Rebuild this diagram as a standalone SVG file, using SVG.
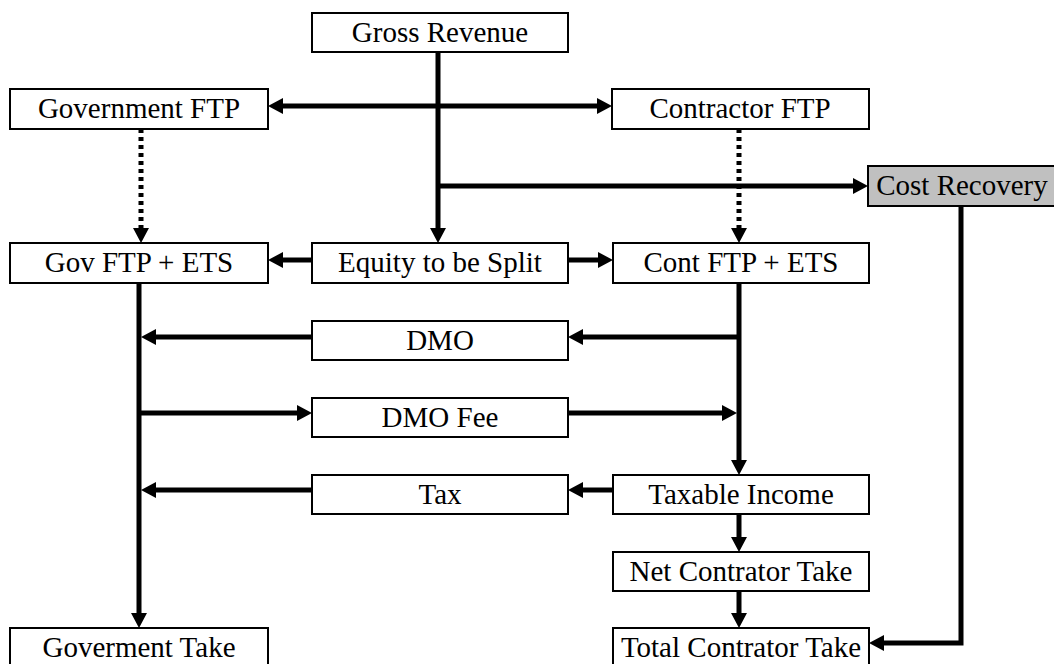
<svg xmlns="http://www.w3.org/2000/svg" width="1054" height="664" viewBox="0 0 1054 664">
<style>
.box{fill:#ffffff;stroke:#000000;stroke-width:2}
.grey{fill:#c0c0c0}
.lbl{font-family:'Liberation Serif','DejaVu Serif',serif;font-size:29px;fill:#000000;text-anchor:middle}
.c{fill:none;stroke:#000000;stroke-width:5}
.dot{stroke-dasharray:4 4}
</style>
<defs>
<marker id="ah" markerUnits="userSpaceOnUse" markerWidth="16" markerHeight="16" refX="3" refY="8" orient="auto-start-reverse">
<path d="M0,0 L15,8 L0,16 z" fill="#000000"/>
</marker>
</defs>
<rect width="1054" height="664" fill="#ffffff"/>
<g id="connectors">
<path class="c" d="M438,52 V231" marker-end="url(#ah)"/>
<path class="c" d="M280,106 H600" marker-start="url(#ah)" marker-end="url(#ah)"/>
<path class="c" d="M438,186 H856" marker-end="url(#ah)"/>
<path class="c dot" d="M141,129 V231" marker-end="url(#ah)"/>
<path class="c dot" d="M739,129 V231" marker-end="url(#ah)"/>
<path class="c" d="M312,260 H280" marker-end="url(#ah)"/>
<path class="c" d="M568,260 H601" marker-end="url(#ah)"/>
<path class="c" d="M139,283 V616" marker-end="url(#ah)"/>
<path class="c" d="M739,283 V463" marker-end="url(#ah)"/>
<path class="c" d="M739,337 H580" marker-end="url(#ah)"/>
<path class="c" d="M312,337 H153" marker-end="url(#ah)"/>
<path class="c" d="M139,413 H300" marker-end="url(#ah)"/>
<path class="c" d="M568,413 H725" marker-end="url(#ah)"/>
<path class="c" d="M613,490 H580" marker-end="url(#ah)"/>
<path class="c" d="M312,490 H153" marker-end="url(#ah)"/>
<path class="c" d="M739,514 V540" marker-end="url(#ah)"/>
<path class="c" d="M739,591 V616" marker-end="url(#ah)"/>
<path class="c" d="M961,206 V643 H881" marker-end="url(#ah)"/>
</g>
<g font-family="'Liberation Serif', 'DejaVu Serif', serif">
<g id="gross-revenue"><rect class="box" x="312" y="13" width="256" height="39"/><text class="lbl" x="440" y="42">Gross Revenue</text></g>
<g id="government-ftp"><rect class="box" x="10" y="89" width="258" height="40"/><text class="lbl" x="139" y="118">Government FTP</text></g>
<g id="contractor-ftp"><rect class="box" x="612" y="89" width="257" height="40"/><text class="lbl" x="740" y="118">Contractor FTP</text></g>
<g id="cost-recovery"><rect class="box grey" x="868" y="166" width="190" height="40"/><text class="lbl" x="962" y="195">Cost Recovery</text></g>
<g id="gov-ftp-ets"><rect class="box" x="10" y="243" width="258" height="40"/><text class="lbl" x="139" y="272">Gov FTP + ETS</text></g>
<g id="equity-split"><rect class="box" x="312" y="243" width="256" height="40"/><text class="lbl" x="440" y="272">Equity to be Split</text></g>
<g id="cont-ftp-ets"><rect class="box" x="613" y="243" width="256" height="40"/><text class="lbl" x="741" y="272">Cont FTP + ETS</text></g>
<g id="dmo"><rect class="box" x="312" y="321" width="256" height="39"/><text class="lbl" x="440" y="350">DMO</text></g>
<g id="dmo-fee"><rect class="box" x="312" y="398" width="256" height="39"/><text class="lbl" x="440" y="427">DMO Fee</text></g>
<g id="tax"><rect class="box" x="312" y="475" width="256" height="39"/><text class="lbl" x="440" y="504">Tax</text></g>
<g id="taxable-income"><rect class="box" x="613" y="475" width="256" height="39"/><text class="lbl" x="741" y="504">Taxable Income</text></g>
<g id="net-contrator-take"><rect class="box" x="613" y="552" width="256" height="39"/><text class="lbl" x="741" y="581">Net Contrator Take</text></g>
<g id="goverment-take"><rect class="box" x="10" y="628" width="258" height="40"/><text class="lbl" x="139" y="657">Goverment Take</text></g>
<g id="total-contrator-take"><rect class="box" x="613" y="628" width="256" height="40"/><text class="lbl" x="741" y="657">Total Contrator Take</text></g>
</g>
</svg>
